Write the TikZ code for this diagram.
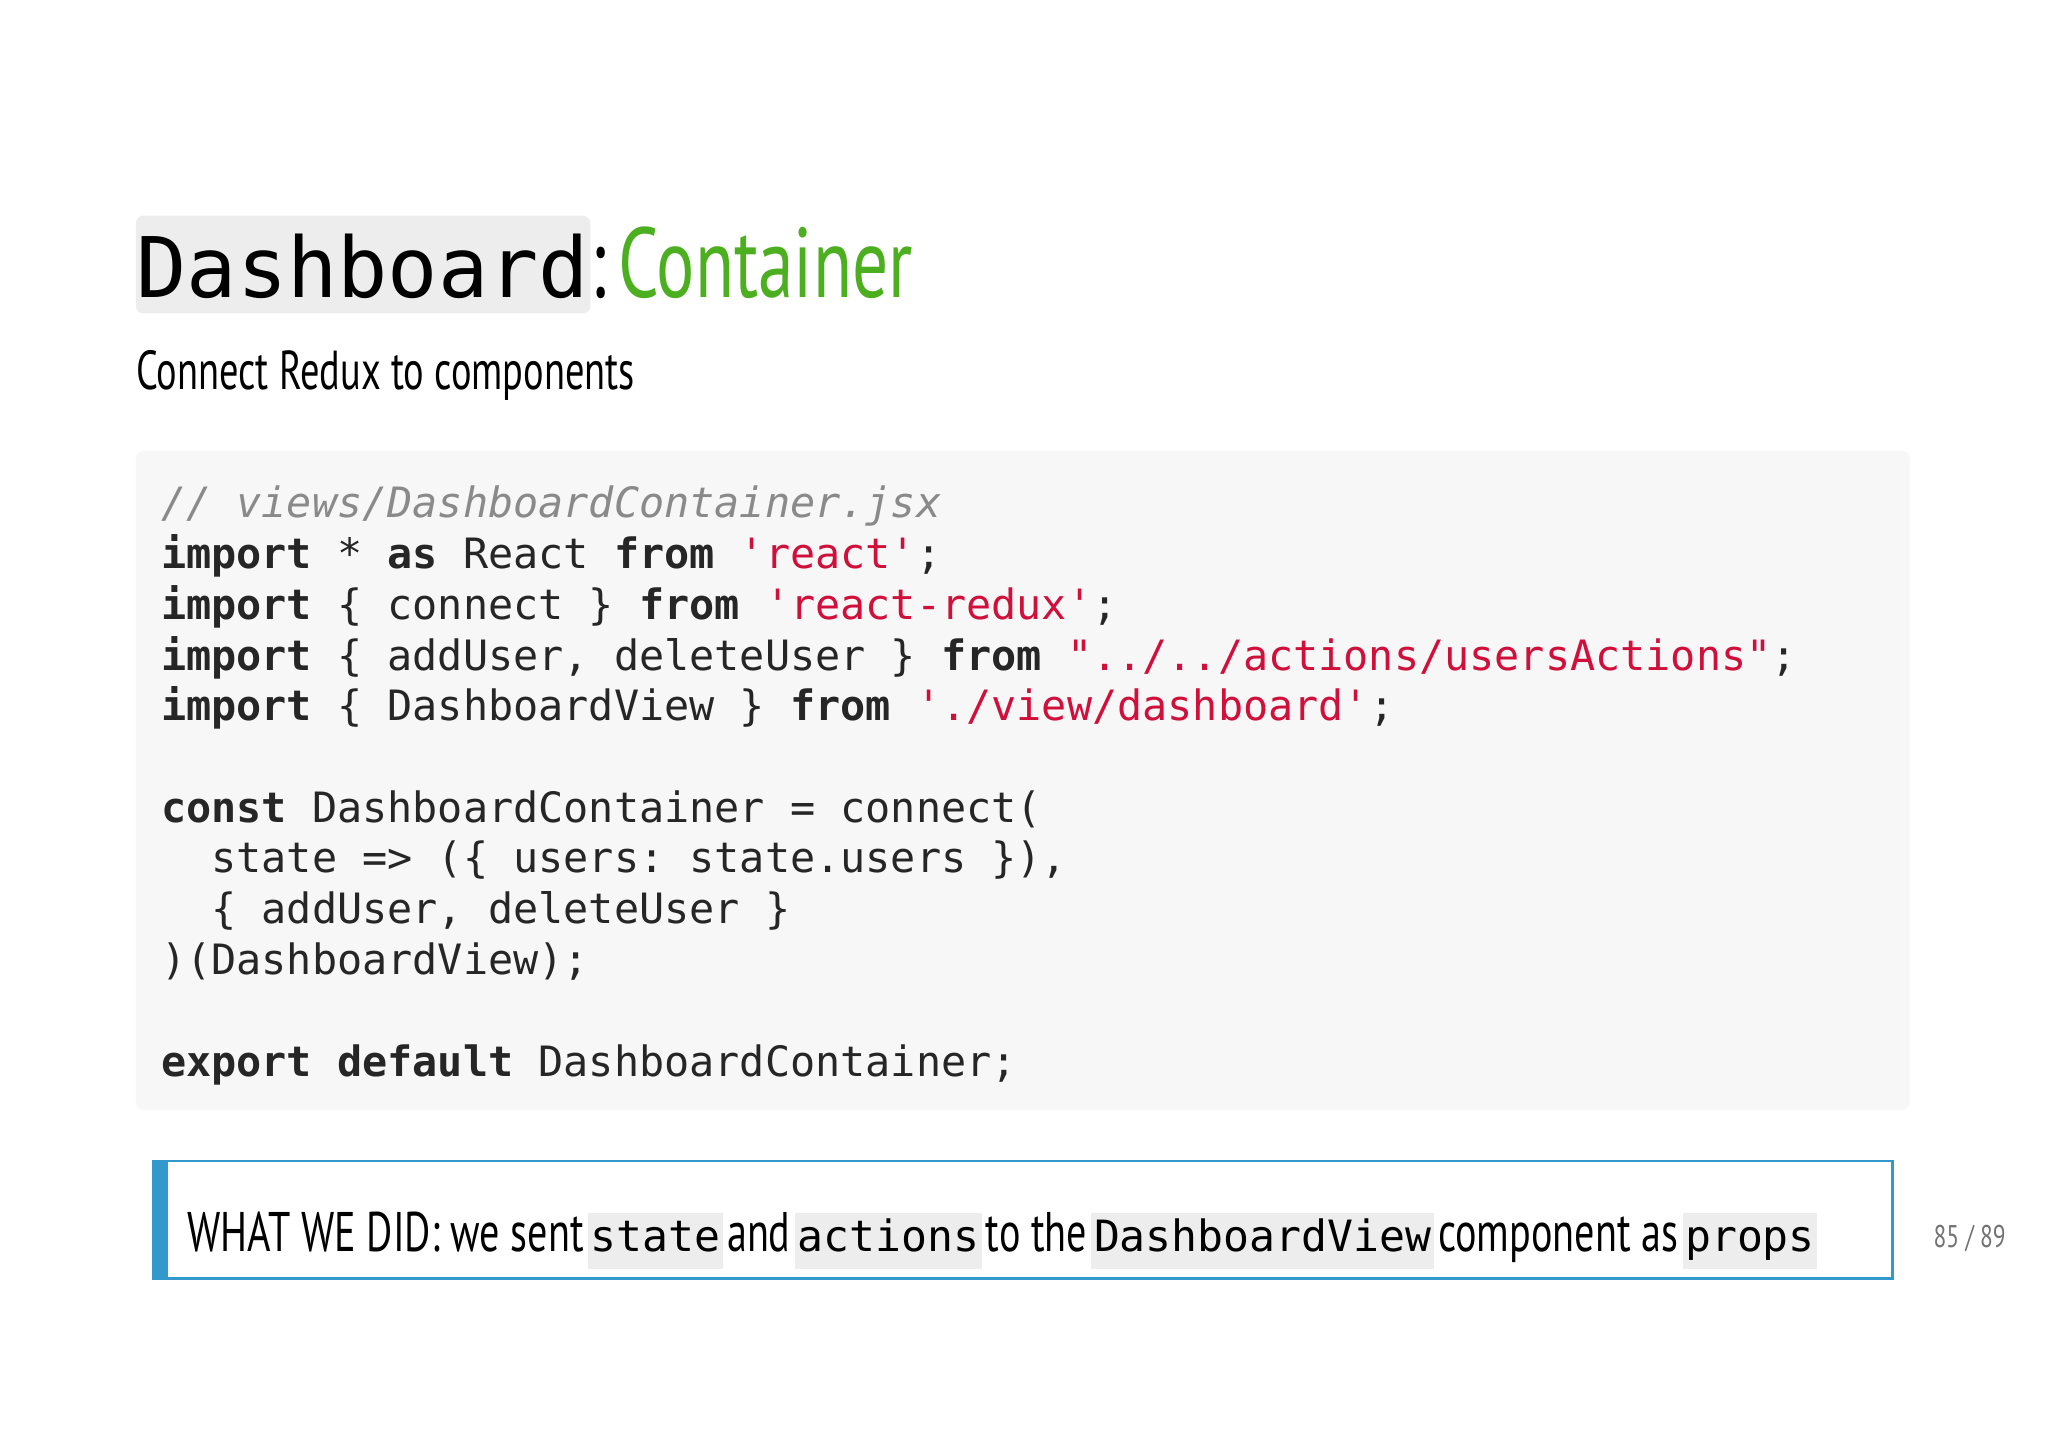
\documentclass[tikz,border=0pt]{standalone}
\usepackage{fontspec}
\setmainfont{PT Sans}
\setmonofont{DejaVu Sans Mono}
\definecolor{codebg}{HTML}{F7F7F8}
\definecolor{str}{HTML}{D0103A}
\definecolor{cmt}{HTML}{8A8A8A}
\definecolor{grn}{HTML}{4CAF1F}
\definecolor{blu}{HTML}{3399CC}
\definecolor{ibg}{HTML}{EDEDED}
\newcommand{\kw}[1]{\textbf{#1}}
\newcommand{\st}[1]{\textcolor{str}{#1}}
\newcommand{\ic}[1]{{\setlength{\fboxsep}{1pt}\colorbox{ibg}{\ttfamily\fontsize{17}{20}\selectfont\strut #1}}}
\newcommand{\pr}[1]{\scalebox{0.72}[1]{\fontsize{22}{26}\selectfont #1}}
\begin{document}
\begin{tikzpicture}[x=0.5pt,y=-0.5pt,
  code/.style={anchor=base west,inner sep=0pt,font=\ttfamily\fontsize{16}{19}\selectfont,text=black!85}]
\useasboundingbox (0,0) rectangle (1568,1110);
\fill[white] (0,0) rectangle (1568,1110);
% title
\fill[ibg,rounded corners=3pt] (104,165) rectangle (452,240);
\node[anchor=base west,inner sep=0pt,font=\ttfamily\fontsize{32}{36}\selectfont] (t1) at (104,228) {Dashboard};
\node[anchor=base west,inner sep=0pt] (t2) at (452,228) {\scalebox{0.72}[1]{\fontsize{38}{40}\selectfont :\,\textcolor{grn}{Container}}};
\node[anchor=base west,inner sep=0pt] (sub) at (104,298) {\scalebox{0.70}[1]{\fontsize{21}{24}\selectfont Connect Redux to components}};
% code box
\fill[codebg,rounded corners=3pt] (104,345) rectangle (1462,850);
\node[code] (l0) at (123,396) {\textcolor{cmt}{\itshape // views/DashboardContainer.jsx}};
\node[code] (l1) at (123,435) {\kw{import} * \kw{as} React \kw{from} \st{'react'};};
\node[code] (l2) at (123,474) {\kw{import} \{ connect \} \kw{from} \st{'react-redux'};};
\node[code] (l3) at (123,513) {\kw{import} \{ addUser, deleteUser \} \kw{from} \st{"../../actions/usersActions"};};
\node[code] (l4) at (123,552) {\kw{import} \{ DashboardView \} \kw{from} \st{'./view/dashboard'};};
\node[code] (l5) at (123,630) {\kw{const} DashboardContainer = connect(};
\node[code] (l6) at (123,668) {\phantom{xx}state => (\{ users: state.users \}),};
\node[code] (l7) at (123,707) {\phantom{xx}\{ addUser, deleteUser \}};
\node[code] (l8) at (123,746) {)(DashboardView);};
\node[code] (l9) at (123,824) {\kw{export} \kw{default} DashboardContainer;};
% note box
\draw[blu,line width=1pt] (117,889) rectangle (1449,979);
\fill[blu] (117,889) rectangle (129,979);
\node[anchor=base west,inner sep=0pt] (note) at (143,958) {\resizebox{624pt}{!}{\pr{WHAT WE DID: we sent}\,\ic{state}\,\pr{and}\,\ic{actions}\,\pr{to the}\,\ic{DashboardView}\,\pr{component as}\,\ic{props}}};
\node[anchor=base west,inner sep=0pt,text=black!55] (pg) at (1480,955) {\scalebox{0.75}[1]{\fontsize{12}{14}\selectfont 85 / 89}};
\end{tikzpicture}
\end{document}
